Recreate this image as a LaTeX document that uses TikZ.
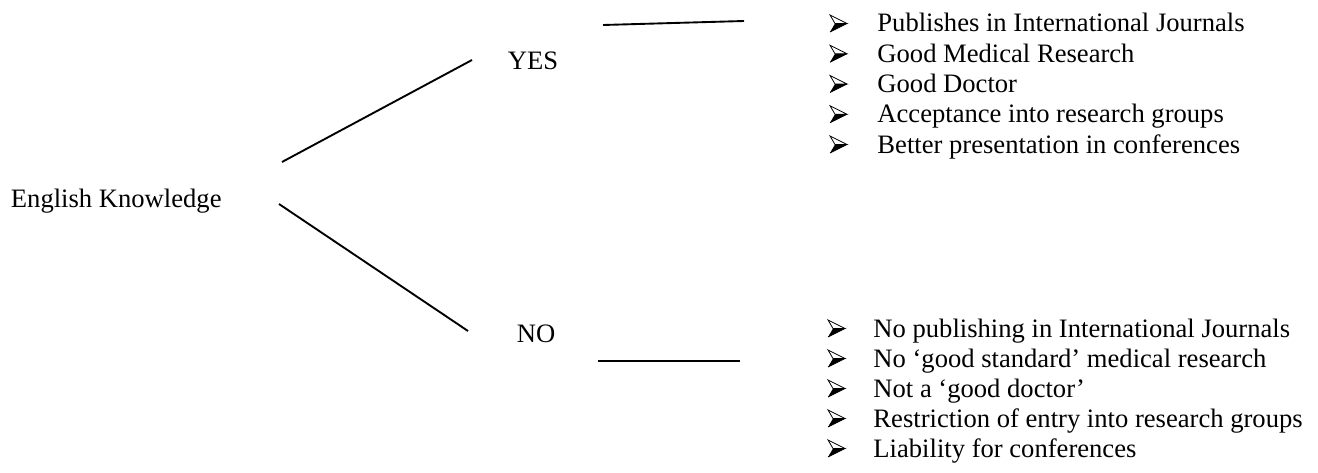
\documentclass[tikz,border=0pt]{standalone}
\usepackage{fontspec}
\setmainfont{Liberation Serif}
\usetikzlibrary{positioning}

\tikzset{
  bullettip/.pic={
    \fill[black] (0,0) -- (17,-8.5) -- (5,-8.5) -- cycle;
    \draw[line width=0.35pt, fill=white, line join=miter] (0,-17) -- (17,-8.5) -- (5,-8.5) -- cycle;
    \draw[line width=0.35pt] (0,0) -- (17,-8.5);
  }
}

\begin{document}
\begin{tikzpicture}[x=0.4511pt, y=-0.4511pt,
    every node/.append style={font=\fontsize{12}{13.6}\selectfont, inner sep=0pt},
    branch/.style={line width=0.85pt},
    item/.style={anchor=base west}]
  \useasboundingbox (0,0) rectangle (1318,473);

  \node[anchor=base east] (EK) at (222,207) {English Knowledge};
  \node[anchor=base] (YES) at (533,70) {YES};
  \node[anchor=base] (NO) at (536,342) {NO};

  % free ends of the branches
  \coordinate (EKup) at (282,162);
  \coordinate (EKdown) at (279,204);
  \coordinate (YESleft) at (472,60);
  \coordinate (NOleft) at (468,331);
  \coordinate (YESa) at (603,25);
  \coordinate (YESb) at (744,21);
  \coordinate (NOa) at (598,361);
  \coordinate (NOb) at (740,361);

  \draw[branch] (EKup) -- (YESleft);
  \draw[branch] (EKdown) -- (NOleft);
  \draw[branch] (YESa) -- (YESb);
  \draw[branch] (NOa) -- (NOb);

  % outcomes of YES
  \foreach \txt [count=\i] in {Publishes in International Journals,
      Good Medical Research, Good Doctor,
      Acceptance into research groups, Better presentation in conferences}
  {
    \pic (yesTip\i) at (830,{32+30.25*(\i-1)}) {bullettip};
    \node[item] (yesItem\i) at (877,{32+30.25*(\i-1)}) {\txt};
  }

  % outcomes of NO
  \foreach \txt [count=\i] in {No publishing in International Journals,
      No ‘good standard’ medical research, Not a ‘good doctor’,
      Restriction of entry into research groups, Liability for conferences}
  {
    \pic (noTip\i) at (828,{337+30*(\i-1)}) {bullettip};
    \node[item] (noItem\i) at (873,{337+30*(\i-1)}) {\txt};
  }
\end{tikzpicture}
\end{document}
